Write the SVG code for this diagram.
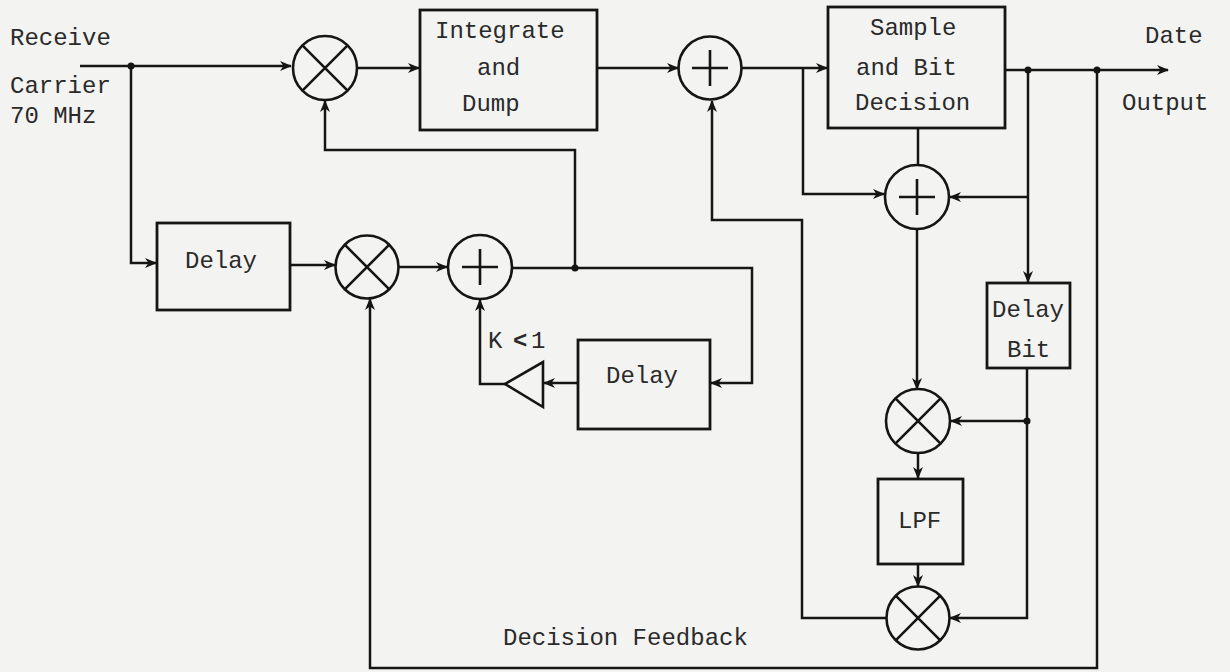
<svg xmlns="http://www.w3.org/2000/svg" width="1230" height="672" viewBox="0 0 1230 672">
<defs>
<marker id="arr" viewBox="0 0 12 10" refX="11" refY="5" markerWidth="12" markerHeight="10" markerUnits="userSpaceOnUse" orient="auto">
<path d="M0,0 L12,5 L0,10 L3.5,5 z" fill="#151515"/>
</marker>
</defs>
<style>
.ln{fill:none;stroke:#151515;stroke-width:2.5;stroke-linejoin:miter}
.bx{fill:none;stroke:#151515;stroke-width:2.8}
.sym{fill:none;stroke:#151515;stroke-width:2.6}
.t{font-family:"Liberation Mono","DejaVu Sans Mono",monospace;font-size:24px;fill:#2a2a2a}
.dot{fill:#151515}
</style>
<rect width="1230" height="672" fill="#f3f3f1"/>

<g id="connectors">
<path class="ln" d="M80,66 H291" marker-end="url(#arr)"/>
<path class="ln" d="M357,68 H419" marker-end="url(#arr)"/>
<path class="ln" d="M597,68 H678" marker-end="url(#arr)"/>
<path class="ln" d="M742,68 H827" marker-end="url(#arr)"/>
<path class="ln" d="M803,68 V194 H884" marker-end="url(#arr)"/>
<path class="ln" d="M918,128 V165"/>
<path class="ln" d="M1005,70 H1168" marker-end="url(#arr)"/>
<path class="ln" d="M1028,70 V282" marker-end="url(#arr)"/>
<path class="ln" d="M1028,197 H950" marker-end="url(#arr)"/>
<path class="ln" d="M1027,368 V618 H950" marker-end="url(#arr)"/>
<path class="ln" d="M1027,421 H951" marker-end="url(#arr)"/>
<path class="ln" d="M917,228 V389" marker-end="url(#arr)"/>
<path class="ln" d="M918,453 V478" marker-end="url(#arr)"/>
<path class="ln" d="M918,564 V586" marker-end="url(#arr)"/>
<path class="ln" d="M886,618 H802 V220 H712 V101" marker-end="url(#arr)"/>
<path class="ln" d="M1097,70 V668 H370 V299" marker-end="url(#arr)"/>
<path class="ln" d="M131,66 V263 H156" marker-end="url(#arr)"/>
<path class="ln" d="M290,265 H335" marker-end="url(#arr)"/>
<path class="ln" d="M398,267 H447" marker-end="url(#arr)"/>
<path class="ln" d="M512,268 H752 V383 H711" marker-end="url(#arr)"/>
<path class="ln" d="M575,268 V150 H325 V101" marker-end="url(#arr)"/>
<path class="ln" d="M578,383 H544" marker-end="url(#arr)"/>
<path class="ln" d="M505,384 H480 V300" marker-end="url(#arr)"/>
<circle class="dot" cx="131" cy="66" r="3.5"/>
<circle class="dot" cx="575" cy="268" r="3.5"/>
<circle class="dot" cx="1028" cy="70" r="3.5"/>
<circle class="dot" cx="1097" cy="70" r="3.5"/>
<circle class="dot" cx="1027" cy="421" r="3.5"/>
</g>

<g id="labels">
<text class="t" x="10" y="45">Receive</text>
<text class="t" x="10" y="93">Carrier</text>
<text class="t" x="10" y="123">70 MHz</text>
<text class="t" x="1145" y="43">Date</text>
<text class="t" x="1122" y="110">Output</text>
<text class="t" x="503" y="645">Decision Feedback</text>
</g>

<g id="mult1">
<circle class="sym" cx="325" cy="68" r="32"/>
<path class="sym" d="M302.4,45.4 L347.6,90.6 M347.6,45.4 L302.4,90.6"/>
</g>
<g id="integrate">
<rect class="bx" x="420" y="10" width="177" height="120"/>
<text class="t" x="435" y="38">Integrate</text>
<text class="t" x="477" y="75">and</text>
<text class="t" x="462" y="111">Dump</text>
</g>
<g id="adder1">
<circle class="sym" cx="710" cy="68" r="31.5"/>
<path class="sym" d="M692,68 H728 M710,50 V86"/>
</g>
<g id="sample">
<rect class="bx" x="828" y="7" width="177" height="121"/>
<text class="t" x="870" y="35">Sample</text>
<text class="t" x="856" y="75">and Bit</text>
<text class="t" x="855" y="110">Decision</text>
</g>
<g id="adder3">
<circle class="sym" cx="917" cy="197" r="32"/>
<path class="sym" d="M899,197 H935 M917,179 V215"/>
</g>
<g id="delaybit">
<rect class="bx" x="987" y="283" width="83" height="85"/>
<text class="t" x="992" y="317">Delay</text>
<text class="t" x="1007" y="357">Bit</text>
</g>
<g id="mult3">
<circle class="sym" cx="918" cy="421" r="32"/>
<path class="sym" d="M895.4,398.4 L940.6,443.6 M940.6,398.4 L895.4,443.6"/>
</g>
<g id="lpf">
<rect class="bx" x="878" y="479" width="85" height="85"/>
<text class="t" x="898" y="528">LPF</text>
</g>
<g id="mult4">
<circle class="sym" cx="918" cy="618" r="31.5"/>
<path class="sym" d="M895.7,595.7 L940.3,640.3 M940.3,595.7 L895.7,640.3"/>
</g>
<g id="delay1">
<rect class="bx" x="157" y="223" width="133" height="87"/>
<text class="t" x="185" y="268">Delay</text>
</g>
<g id="mult2">
<circle class="sym" cx="367" cy="267" r="31.5"/>
<path class="sym" d="M344.7,244.7 L389.3,289.3 M389.3,244.7 L344.7,289.3"/>
</g>
<g id="adder2">
<circle class="sym" cx="480" cy="267" r="32"/>
<path class="sym" d="M462,267 H498 M480,249 V285"/>
</g>
<g id="delay2">
<rect class="bx" x="578" y="340" width="132" height="89"/>
<text class="t" x="606" y="383">Delay</text>
</g>
<g id="gain">
<polygon class="sym" points="543,362 543,407 505,384"/>
<text class="t" x="488" y="348">K<tspan x="513" font-weight="bold">&lt;</tspan><tspan x="531">1</tspan></text>
</g>
</svg>
